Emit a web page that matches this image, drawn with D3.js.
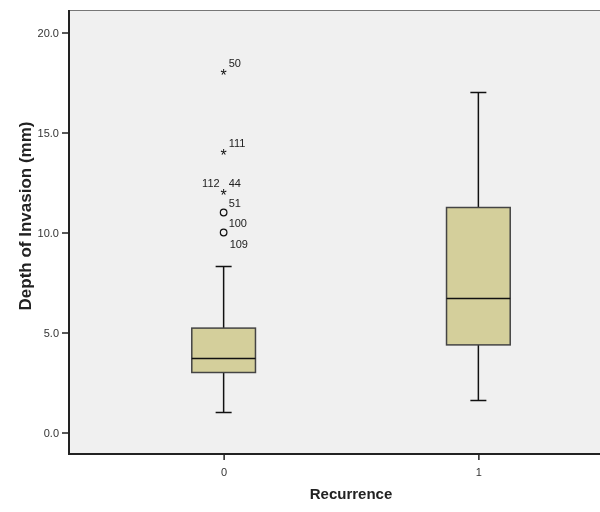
<!DOCTYPE html>
<html>
<head>
<meta charset="utf-8">
<script src="https://cdn.jsdelivr.net/npm/d3@7"></script>
<style>
  body { margin: 0; background: #fff; }
  svg { display: block; font-family: Arial, "Liberation Sans", sans-serif; will-change: transform; }
  .tickText { font-size: 11px; fill: #333; }
  .axisTitle { font-weight: bold; fill: #222; }
  .outlierLabel { font-size: 11px; fill: #222; }
</style>
</head>
<body>
<div id="chart"></div>
<script>
// groups on the x axis
const groups = ['0', '1'];
// five number summaries
const whiskerLow = [1.0, 1.6];
const q1 = [3.0, 4.38];
const median = [3.7, 6.7];
const q3 = [5.22, 11.25];
const whiskerHigh = [8.3, 17.0];
// outliers (all in group 0)
const outlierValues = [18.0, 14.0, 12.0, 11.0, 10.0];
const outlierKinds = ['extreme', 'extreme', 'extreme', 'outlier', 'outlier'];
const outlierCases = [['50'], ['111'], ['112', '44'], ['51'], ['100', '109']];
const yTicks = [0, 5, 10, 15, 20];

const width = 600;
const height = 512;
const plot = {left: 69, top: 10, right: 633, bottom: 454};

const svg = d3.select('#chart').append('svg')
  .attr('width', width)
  .attr('height', height);

const x = d3.scalePoint()
  .domain(groups)
  .range([plot.left, plot.right])
  .padding(0.607);

const y = d3.scaleLinear()
  .domain([-1.075, 21.125])
  .range([plot.bottom, plot.top]);

const boxWidth = x.step() * 0.25;
const capWidth = 16;

// plot background
svg.append('rect')
  .attr('x', plot.left)
  .attr('y', plot.top)
  .attr('width', plot.right - plot.left)
  .attr('height', plot.bottom - plot.top)
  .attr('fill', '#f0f0f0');

svg.append('line')
  .attr('x1', plot.left).attr('x2', plot.right)
  .attr('y1', plot.top + 0.5).attr('y2', plot.top + 0.5)
  .attr('stroke', '#777')
  .attr('stroke-width', 1);

// axes
const yAxis = svg.append('g')
  .attr('transform', `translate(${plot.left},0)`)
  .call(d3.axisLeft(y).tickValues(yTicks).tickFormat(d3.format('.1f')).tickSize(7).tickPadding(3));
const xAxis = svg.append('g')
  .attr('transform', `translate(0,${plot.bottom})`)
  .call(d3.axisBottom(x).tickSize(6).tickPadding(8));

[yAxis, xAxis].forEach(ax => {
  ax.select('.domain').remove();
  ax.selectAll('.tick line').attr('stroke', '#222').attr('stroke-width', 1.5);
  ax.selectAll('.tick text').attr('class', 'tickText').attr('fill', null).style('font-family', null).style('font-size', null);
  ax.attr('font-family', null).attr('font-size', null);
});

svg.append('path')
  .attr('d', `M${plot.left},${plot.top}V${plot.bottom}H${plot.right}`)
  .attr('fill', 'none')
  .attr('stroke', '#222')
  .attr('stroke-width', 2);

// boxes
const boxes = groups.map((g, i) => ({
  g, lo: whiskerLow[i], q1: q1[i], med: median[i], q3: q3[i], hi: whiskerHigh[i]
}));

const boxGroups = svg.selectAll('.boxGroup')
  .data(boxes)
  .enter()
  .append('g')
  .attr('class', 'boxGroup')
  .attr('transform', d => `translate(${x(d.g)},0)`);

boxGroups.append('line')
  .attr('x1', 0).attr('x2', 0)
  .attr('y1', d => y(d.hi)).attr('y2', d => y(d.q3))
  .attr('stroke', '#111').attr('stroke-width', 1.5);
boxGroups.append('line')
  .attr('x1', 0).attr('x2', 0)
  .attr('y1', d => y(d.q1)).attr('y2', d => y(d.lo))
  .attr('stroke', '#111').attr('stroke-width', 1.5);
boxGroups.selectAll('.cap')
  .data(d => [d.lo, d.hi])
  .enter()
  .append('line')
  .attr('class', 'cap')
  .attr('x1', -capWidth / 2).attr('x2', capWidth / 2)
  .attr('y1', v => y(v)).attr('y2', v => y(v))
  .attr('stroke', '#111').attr('stroke-width', 1.5);
boxGroups.append('rect')
  .attr('x', -boxWidth / 2)
  .attr('width', boxWidth)
  .attr('y', d => y(d.q3))
  .attr('height', d => y(d.q1) - y(d.q3))
  .attr('fill', '#d4cf9b')
  .attr('stroke', '#444')
  .attr('stroke-width', 1.5);
boxGroups.append('line')
  .attr('x1', -boxWidth / 2).attr('x2', boxWidth / 2)
  .attr('y1', d => y(d.med)).attr('y2', d => y(d.med))
  .attr('stroke', '#111').attr('stroke-width', 1.5);

// outliers
const outliers = outlierValues.map((v, i) => ({
  v, kind: outlierKinds[i], cases: outlierCases[i], g: groups[0]
}));

const outlierGroups = svg.selectAll('.outlier')
  .data(outliers)
  .enter()
  .append('g')
  .attr('class', 'outlier')
  .attr('transform', d => `translate(${x(d.g)},${y(d.v)})`);

outlierGroups.filter(d => d.kind === 'outlier')
  .append('circle')
  .attr('r', 3.3)
  .attr('fill', 'none')
  .attr('stroke', '#111')
  .attr('stroke-width', 1.2);

outlierGroups.filter(d => d.kind === 'extreme')
  .append('text')
  .attr('text-anchor', 'middle')
  .attr('y', 8)
  .style('font-size', '16px')
  .attr('fill', '#111')
  .text('*');

// case labels: first label up-right, a second label goes left (stars) or below (circles)
outlierGroups.each(function (d) {
  const grp = d3.select(this);
  d.cases.forEach((c, j) => {
    let dx = 5, dy = -6, anchor = 'start';
    if (j === 0 && d.cases.length > 1 && d.kind === 'extreme') { dx = -4; dy = -6; anchor = 'end'; }
    if (j === 1 && d.kind === 'outlier') { dx = 6; dy = 15; }
    grp.append('text')
      .attr('class', 'outlierLabel')
      .attr('x', dx)
      .attr('y', dy)
      .attr('text-anchor', anchor)
      .text(c);
  });
});

// titles
svg.append('text')
  .attr('class', 'axisTitle')
  .attr('x', (plot.left + plot.right) / 2)
  .attr('y', 499)
  .attr('text-anchor', 'middle')
  .style('font-size', '15px')
  .text('Recurrence');

svg.append('text')
  .attr('class', 'axisTitle')
  .attr('transform', `translate(31,216) rotate(-90)`)
  .attr('text-anchor', 'middle')
  .style('font-size', '17px')
  .text('Depth of Invasion (mm)');
</script>
</body>
</html>
